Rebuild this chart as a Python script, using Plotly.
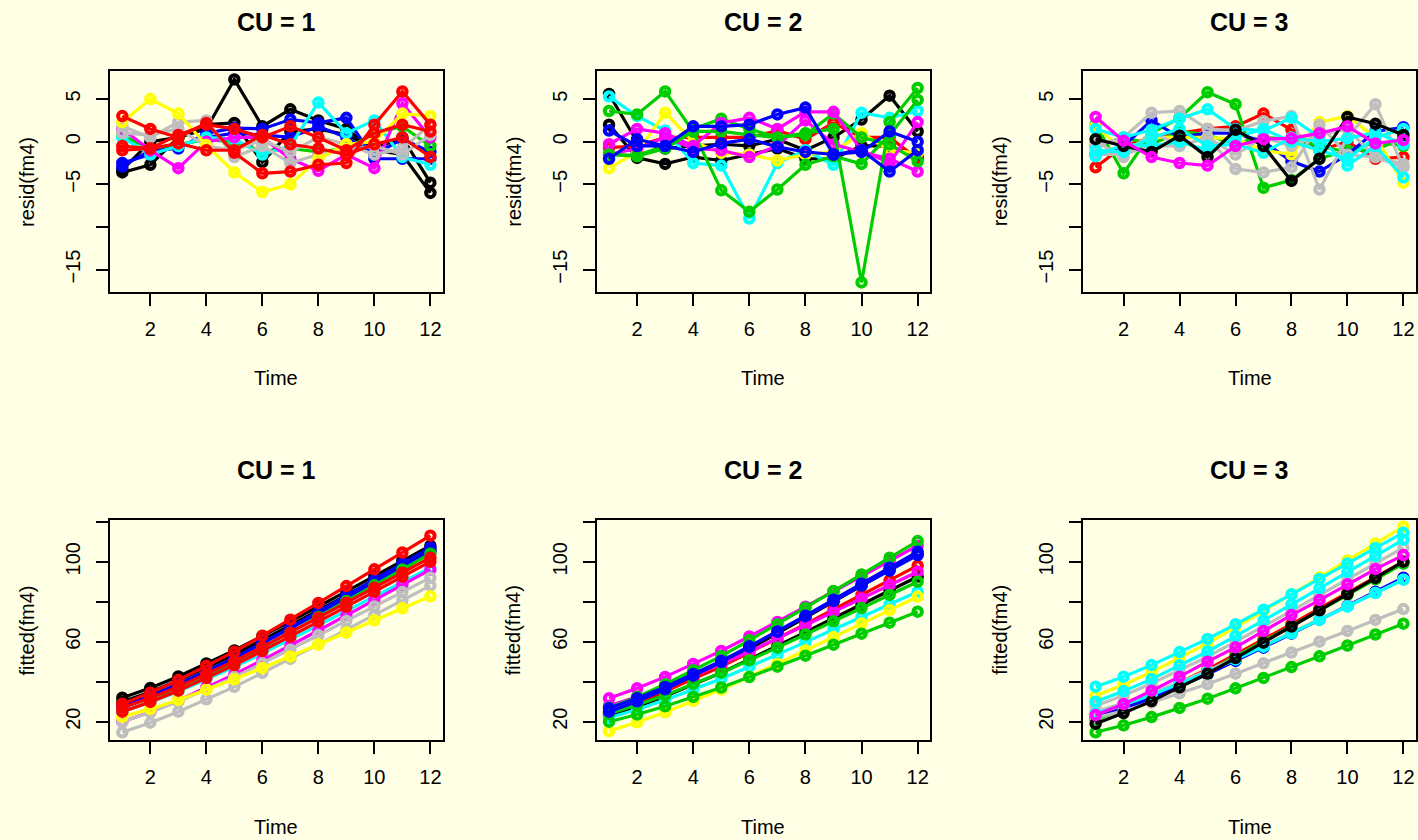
import plotly.graph_objects as go

# ---------------- data ----------------
TIME = [1, 2, 3, 4, 5, 6, 7, 8, 9, 10, 11, 12]
CU_LEVELS = ["CU = 1", "CU = 2", "CU = 3"]

BLACK, RED, GREEN, BLUE = "#000000", "#FF0000", "#00CD00", "#0000FF"
CYAN, MAGENTA, YELLOW, GRAY = "#00FFFF", "#FF00FF", "#FFFF00", "#BEBEBE"

# CU = 1 (draw order)
CU1_COLORS = [BLACK, BLACK, BLUE, BLUE, GREEN, CYAN, MAGENTA, GRAY, GRAY, YELLOW, RED, RED, RED]
CU1_RESID = [
    [-3.6, -2.7, 0.5, 1.5, 7.3, 1.8, 3.8, 2.5, 1.5, -1.0, -1.5, -6.0],
    [-3.3, 0.0, 0.5, 2.0, 2.2, -2.4, 1.2, 1.5, 0.8, -0.8, 0.5, -4.8],
    [-2.9, -1.0, -0.8, 1.0, 1.6, 1.5, 2.6, 2.2, 2.8, -2.0, -2.0, -2.0],
    [-2.5, -1.5, -0.5, 0.5, 1.0, 0.8, 0.5, 1.8, 0.5, -1.5, 0.3, -1.2],
    [0.7, -0.8, -0.3, 0.2, 0.0, -1.1, -0.8, -1.2, -0.8, 1.0, 1.8, -0.5],
    [0.5, -1.5, -0.5, 0.5, 0.3, -1.5, -0.5, 4.6, 1.0, 2.5, -1.8, -2.7],
    [1.5, -1.0, -3.1, 0.0, 0.5, 0.5, -2.0, -3.4, -1.5, -3.1, 4.5, 0.5],
    [1.8, 0.5, 2.3, 2.5, -1.8, -0.5, -2.5, -1.5, -1.0, -0.5, -1.5, 0.8],
    [1.0, 0.8, 1.5, -0.5, -1.0, 0.2, -1.2, 0.5, -0.3, -1.5, -0.8, 2.0],
    [2.3, 5.0, 3.3, -0.4, -3.6, -5.9, -5.0, -2.0, -0.3, 0.0, 3.3, 3.0],
    [-0.5, -0.8, -0.2, -1.0, -1.0, 0.8, -0.3, -0.8, -1.5, -0.3, 0.5, -1.8],
    [-1.0, -0.8, 0.8, 2.0, 1.5, 0.5, 1.8, 0.5, -1.0, 1.0, 2.0, 1.2],
    [3.0, 1.5, 0.5, 2.2, -1.3, -3.7, -3.5, -2.7, -2.5, 2.0, 5.9, 2.0],
]
CU1_FITTED = [
    [32, 36.9, 42.6, 49.1, 55.6, 62.8, 70, 77.6, 85.2, 92.8, 100.4, 108],
    [30, 34.9, 40.6, 47.1, 53.6, 60.8, 68, 75.6, 83.2, 90.8, 98.4, 106],
    [27, 32.2, 38.2, 45, 51.8, 59.4, 67, 75, 83, 91, 99, 107],
    [28, 33, 38.8, 45.3, 51.9, 59.2, 66.5, 74.2, 81.9, 89.6, 97.3, 105],
    [25, 30.1, 36.1, 42.8, 49.5, 57, 64.5, 72.4, 80.3, 88.2, 96.1, 104],
    [25, 29.7, 35.1, 41.2, 47.3, 54.2, 61, 68.2, 75.4, 82.6, 89.8, 97],
    [20, 24.9, 30.6, 37.1, 43.6, 50.8, 58, 65.6, 73.2, 80.8, 88.4, 96],
    [14.7, 19.5, 25, 31.2, 37.4, 44.4, 51.4, 58.7, 66, 73.3, 80.7, 88],
    [20, 24.7, 30.1, 36.2, 42.3, 49.2, 56, 63.2, 70.4, 77.6, 84.8, 92],
    [22.5, 26.4, 30.9, 36, 41.2, 46.9, 52.6, 58.6, 64.6, 70.7, 76.7, 82.7],
    [25, 29.9, 35.5, 41.9, 48.3, 55.4, 62.5, 70, 77.5, 85, 92.5, 100],
    [27, 31.9, 37.5, 43.9, 50.3, 57.4, 64.5, 72, 79.5, 87, 94.5, 102],
    [29, 34.5, 40.8, 47.9, 55, 63, 71, 79.4, 87.8, 96.2, 104.6, 113],
]

# CU = 2 (draw order)
CU2_COLORS = [BLACK, BLACK, RED, CYAN, YELLOW, MAGENTA, GREEN, GREEN, MAGENTA, GREEN, BLUE, BLUE]
CU2_RESID = [
    [2.0, -1.9, -2.6, -1.8, -2.2, -1.5, -0.8, -2.0, -2.0, -0.5, -0.5, -1.8],
    [5.6, 0.0, -0.8, -0.5, -0.3, -0.5, 0.3, -1.0, 0.5, 2.6, 5.4, 1.2],
    [-0.7, -0.5, 0.5, 0.5, 0.5, 0.5, 1.3, 0.3, 2.2, 0.5, 0.5, -2.0],
    [5.3, 3.0, 1.3, -2.5, -2.8, -9.0, -2.5, -1.0, -2.7, 3.4, 2.8, 3.6],
    [-3.1, -1.2, 3.4, 0.0, -1.3, -1.5, -2.2, -1.5, -1.2, 1.0, -1.0, -1.3],
    [-1.5, -0.8, 0.5, -0.8, -1.0, -1.8, -0.5, 2.5, -0.3, -1.2, -2.0, -3.5],
    [-1.5, -1.6, -0.5, 1.5, 2.7, 1.5, 0.5, 0.8, 3.3, 0.5, -0.3, -2.3],
    [3.6, 3.2, 5.9, 1.2, -5.7, -8.2, -5.6, -2.7, -1.7, -2.6, 0.8, 4.9],
    [-0.3, 1.5, 1.0, -0.5, 2.2, 2.8, 1.5, 3.5, 3.5, -1.0, -2.5, 2.3],
    [-1.5, -1.7, -0.8, 1.2, 1.2, 0.8, 0.5, 1.0, 1.5, -16.5, 2.3, 6.3],
    [-2.0, 0.3, -0.5, -1.2, -0.2, 0.3, -0.6, -1.2, -1.5, -1.2, 1.2, 0.0],
    [1.3, -0.5, -0.5, 1.8, 1.8, 2.0, 3.2, 4.0, -1.5, -1.0, -3.5, -1.0],
]
CU2_FITTED = [
    [23, 27.5, 32.7, 38.6, 44.5, 51.1, 57.8, 64.7, 71.7, 78.6, 85.6, 92.5],
    [24, 29.2, 35.2, 42, 48.8, 56.4, 64, 72, 80, 88, 96, 104],
    [25, 29.7, 35.2, 41.4, 47.6, 54.6, 61.5, 68.8, 76.1, 83.4, 90.7, 98],
    [22, 26.1, 30.8, 36.2, 41.5, 47.5, 53.5, 59.8, 66.1, 72.4, 78.7, 85],
    [15.3, 19.7, 24.7, 30.4, 36.1, 42.5, 48.9, 55.6, 62.3, 69.1, 75.8, 82.5],
    [28, 32.4, 37.4, 43.1, 48.8, 55.1, 61.5, 68.2, 74.9, 81.6, 88.3, 95],
    [24, 28.3, 33.2, 38.9, 44.5, 50.7, 57, 63.6, 70.2, 76.8, 83.4, 90],
    [20, 23.6, 27.7, 32.4, 37.1, 42.3, 47.5, 53, 58.5, 64, 69.5, 75],
    [31.7, 36.7, 42.4, 48.9, 55.4, 62.6, 69.9, 77.5, 85.1, 92.7, 100.4, 108],
    [27, 32.4, 38.7, 45.7, 52.8, 60.7, 68.7, 77, 85.3, 93.6, 102, 110.3],
    [25, 30.2, 36.2, 43, 49.8, 57.4, 65, 73, 81, 89, 97, 105],
    [26.7, 31.7, 37.4, 43.9, 50.4, 57.7, 65, 72.7, 80.3, 88, 95.6, 103.3],
]

# CU = 3 (draw order)
CU3_COLORS = [RED, GREEN, GREEN, BLUE, YELLOW, GRAY, GRAY, GRAY, CYAN, CYAN, CYAN, BLACK, MAGENTA]
CU3_RESID = [
    [-3.0, -0.5, 0.5, 1.0, 1.5, 1.8, 3.3, 1.4, -1.0, 0.0, -2.0, -1.8],
    [2.0, -3.7, 1.0, 2.8, 5.8, 4.4, -5.4, -4.5, -2.0, -1.0, -1.0, 0.5],
    [-0.5, 0.5, -0.3, 1.2, 0.8, -0.3, 0.5, 0.3, -0.5, -1.2, 0.0, -0.5],
    [-1.5, -0.5, 2.5, 0.5, 1.0, 1.0, 0.0, -2.3, -3.5, -1.5, 1.2, 1.7],
    [1.8, -1.0, 0.5, 0.5, 0.5, 0.3, -1.0, -1.5, 2.3, 3.0, 0.5, -4.8],
    [-0.5, 0.5, 3.4, 3.6, 1.5, 1.3, 2.4, 3.0, -5.6, 0.5, 4.4, -3.0],
    [-1.5, -1.5, -0.5, -0.5, 0.5, -3.2, -3.6, -3.0, 2.0, -1.5, -1.8, -2.6],
    [0.0, -1.8, 1.2, -0.5, 0.5, -1.5, 0.5, -0.5, 0.8, 1.5, -1.8, -3.0],
    [-1.0, -1.2, 0.5, 1.5, -0.5, -0.3, -1.3, 0.5, 0.0, 0.4, 1.1, -0.3],
    [-1.7, -0.3, -0.5, 0.0, -1.0, 0.5, 1.5, 0.0, -1.0, -2.0, 0.5, 1.5],
    [1.5, 0.5, 1.4, 2.7, 3.8, 1.5, 1.3, 2.8, 0.5, -2.8, -0.5, -4.2],
    [0.3, -0.5, -1.2, 0.7, -1.8, 1.4, -0.5, -4.6, -2.0, 2.9, 2.1, 0.8],
    [2.9, 0.1, -1.8, -2.5, -2.8, -0.5, 0.3, 0.4, 1.0, 1.8, -0.2, 0.2],
]
CU3_FITTED = [
    [22, 27.1, 32.9, 39.6, 46.2, 53.6, 61, 68.8, 76.6, 84.4, 92.2, 100],
    [14.7, 18.2, 22.3, 26.9, 31.5, 36.7, 41.9, 47.3, 52.7, 58.1, 63.6, 69],
    [21, 26.1, 31.9, 38.6, 45.2, 52.6, 60, 67.8, 75.6, 83.4, 91.2, 99],
    [22, 26.6, 31.8, 37.8, 43.7, 50.4, 57, 64, 71, 78, 85, 92],
    [33, 38.5, 44.8, 52, 59.2, 67.2, 75.3, 83.7, 92.2, 100.6, 109.1, 117.5],
    [28, 33.1, 39.1, 45.8, 52.5, 60, 67.5, 75.4, 83.3, 91.2, 99.1, 107],
    [25, 29.3, 34.2, 39.9, 45.5, 51.7, 58, 64.6, 71.2, 77.8, 84.4, 91],
    [22, 25.5, 29.6, 34.2, 38.8, 44, 49.2, 54.6, 60, 65.4, 70.9, 76.3],
    [24, 28.4, 33.4, 39.1, 44.8, 51.1, 57.5, 64.2, 70.9, 77.6, 84.3, 91],
    [30, 35.3, 41.3, 48.2, 55.1, 62.8, 70.5, 78.6, 86.7, 94.8, 102.9, 111],
    [37.5, 42.5, 48.3, 54.8, 61.4, 68.7, 76, 83.7, 91.4, 99.1, 106.8, 114.5],
    [19, 24.3, 30.3, 37.2, 44.1, 51.8, 59.5, 67.6, 75.7, 83.8, 91.9, 100],
    [23.3, 28.8, 35.5, 42.5, 50, 57.2, 65.3, 73.3, 80.8, 88.7, 96.3, 103.3],
]

X_TICKS = [2, 4, 6, 8, 10, 12]
RESID_TICKS = [-15, -10, -5, 0, 5]
RESID_LABELS = ["\u221215", "", "\u22125", "0", "5"]
FITTED_TICKS = [20, 40, 60, 80, 100, 120]
FITTED_LABELS = ["20", "", "60", "", "100", ""]

# ---------------- layout ----------------
W, H = 1418, 840
BG = "#FFFFE6"
FONT = "Liberation Sans, Arial, Helvetica, sans-serif"

PANEL_X = [(110, 442.7), (596.7, 930), (1083.3, 1415.7)]
TOP_Y = (71, 292)
BOT_Y = (520, 740)

def px_x(v):
    return v / W

def px_y(v):
    return 1 - v / H

fig = go.Figure()

groups = [
    (CU1_COLORS, CU1_RESID, CU1_FITTED),
    (CU2_COLORS, CU2_RESID, CU2_FITTED),
    (CU3_COLORS, CU3_RESID, CU3_FITTED),
]

def add_lines(colors, series, axis_idx):
    sfx = "" if axis_idx == 1 else str(axis_idx)
    for col, vals in zip(colors, series):
        fig.add_trace(go.Scatter(
            x=TIME, y=vals, mode="lines+markers",
            line=dict(color=col, width=3.2),
            marker=dict(symbol="circle-open", size=8.5, color=col,
                        line=dict(width=4, color=col)),
            xaxis="x" + sfx, yaxis="y" + sfx,
            showlegend=False, hoverinfo="skip",
        ))

for i, (cols, res, fit) in enumerate(groups):
    add_lines(cols, res, i + 1)
    add_lines(cols, fit, i + 4)

axis_common = dict(
    showline=True, mirror=True, linecolor="black", linewidth=2,
    ticks="outside", ticklen=12, tickwidth=1.8, tickcolor="black",
    showgrid=False, zeroline=False,
    tickfont=dict(family=FONT, size=20, color="black"),
)

layout = dict(
    width=W, height=H,
    margin=dict(l=0, r=0, t=0, b=0),
    paper_bgcolor=BG, plot_bgcolor=BG,
    showlegend=False,
)

annotations = []
for idx in range(6):
    row = 0 if idx < 3 else 1
    col = idx % 3
    n = idx + 1
    sfx = "" if n == 1 else str(n)
    x0, x1 = PANEL_X[col]
    y0, y1 = TOP_Y if row == 0 else BOT_Y
    layout["xaxis" + sfx] = dict(
        axis_common, domain=[px_x(x0), px_x(x1)], range=[0.56, 12.44],
        tickvals=X_TICKS, ticklabelstandoff=6,
        anchor="y" + sfx,
    )
    if row == 0:
        yr, tv, tt, ylab = [-17.62, 8.29], RESID_TICKS, RESID_LABELS, "resid(fm4)"
    else:
        yr, tv, tt, ylab = [10.85, 120.85], FITTED_TICKS, FITTED_LABELS, "fitted(fm4)"
    layout["yaxis" + sfx] = dict(
        axis_common, domain=[px_y(y1), px_y(y0)], range=yr,
        tickvals=tv, ticktext=tt, tickangle=-90, ticklabelstandoff=8,
        anchor="x" + sfx,
    )
    cx = (x0 + x1) / 2
    annotations.append(dict(
        text="<b>" + CU_LEVELS[col] + "</b>", x=px_x(cx), y=px_y(21.7 if row == 0 else 470),
        xref="paper", yref="paper", showarrow=False, xanchor="center", yanchor="middle",
        font=dict(family=FONT, size=25, color="black"),
    ))
    annotations.append(dict(
        text="Time", x=px_x(cx), y=px_y(378 if row == 0 else 826.7),
        xref="paper", yref="paper", showarrow=False, xanchor="center", yanchor="middle",
        font=dict(family=FONT, size=20, color="black"),
    ))
    annotations.append(dict(
        text=ylab, x=px_x(x0 - 83.5), y=px_y((y0 + y1) / 2),
        xref="paper", yref="paper", showarrow=False, xanchor="center", yanchor="middle",
        textangle=-90, font=dict(family=FONT, size=20, color="black"),
    ))

layout["annotations"] = annotations
fig.update_layout(**layout)
fig.write_html(
    "out.html",
    config={"displayModeBar": False},
    post_script="document.body.style.margin='0px';document.body.style.overflow='hidden';"
                "document.body.style.background='" + BG + "';",
)
